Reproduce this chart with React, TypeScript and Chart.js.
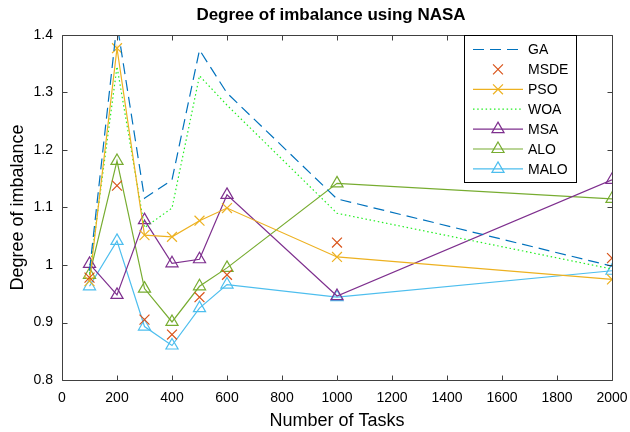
import React, { useEffect, useRef } from "react";
import { Chart, registerables } from "chart.js";

Chart.register(...registerables);

const chartTitle = "Degree of imbalance using NASA";
const xTitle = "Number of Tasks";
const yTitle = "Degree of imbalance";
const tasks = [100, 200, 300, 400, 500, 600, 1000, 2000];
const gaValues = [0.99, 1.42, 1.116, 1.148, 1.374, 1.299, 1.115, 0.998];
const msdeValues = [0.978, 1.138, 0.905, 0.879, 0.944, 0.983, 1.039, 1.012];
const psoValues = [0.972, 1.377, 1.052, 1.049, 1.077, 1.099, 1.014, 0.975];
const woaValues = [0.985, 1.345, 1.065, 1.099, 1.329, 1.278, 1.09, 0.993];
const msaValues = [1.002, 0.948, 1.078, 1.003, 1.01, 1.122, 0.946, 1.148];
const aloValues = [0.983, 1.181, 0.959, 0.901, 0.963, 0.995, 1.142, 1.115];
const maloValues = [0.963, 1.042, 0.893, 0.86, 0.925, 0.966, 0.944, 0.99];
const xTickValues = [0, 200, 400, 600, 800, 1000, 1200, 1400, 1600, 1800, 2000];
const yTickValues = [0.8, 0.9, 1.0, 1.1, 1.2, 1.3, 1.4];

const FONT = "'Liberation Sans', Arial, Helvetica, sans-serif";

type SeriesDef = {
  label: string;
  values: number[];
  color: string;
  dash: number[];
  showLine: boolean;
  point: string | false;
};

const series: SeriesDef[] = [
  { label: "GA", values: gaValues, color: "#0072BD", dash: [11, 6], showLine: true, point: false },
  { label: "MSDE", values: msdeValues, color: "#D95319", dash: [], showLine: false, point: "crossRot" },
  { label: "PSO", values: psoValues, color: "#EDB120", dash: [], showLine: true, point: "crossRot" },
  { label: "WOA", values: woaValues, color: "#22EE22", dash: [1.5, 2.7], showLine: true, point: false },
  { label: "MSA", values: msaValues, color: "#7E2F8E", dash: [], showLine: true, point: "triangle" },
  { label: "ALO", values: aloValues, color: "#77AC30", dash: [], showLine: true, point: "triangle" },
  { label: "MALO", values: maloValues, color: "#4DBEEE", dash: [], showLine: true, point: "triangle" },
];

function drawMarker(ctx: CanvasRenderingContext2D, style: string, x: number, y: number, color: string) {
  ctx.save();
  ctx.strokeStyle = color;
  ctx.lineWidth = 1.2;
  ctx.beginPath();
  if (style === "triangle") {
    const r = 7;
    ctx.moveTo(x, y - r);
    ctx.lineTo(x + r * Math.sin(Math.PI / 3), y + r / 2);
    ctx.lineTo(x - r * Math.sin(Math.PI / 3), y + r / 2);
    ctx.closePath();
  } else {
    const d = 7 * Math.SQRT1_2;
    ctx.moveTo(x - d, y - d);
    ctx.lineTo(x + d, y + d);
    ctx.moveTo(x + d, y - d);
    ctx.lineTo(x - d, y + d);
  }
  ctx.stroke();
  ctx.restore();
}

const framePlugin = {
  id: "frame",
  afterDatasetsDraw(chart: any) {
    const ctx = chart.ctx;
    const area = chart.chartArea;
    const xs = chart.scales.x;
    const ys = chart.scales.y;
    ctx.save();
    ctx.strokeStyle = "#404040";
    ctx.lineWidth = 1;
    const L = Math.round(area.left) + 0.5;
    const R = Math.round(area.right) + 0.5;
    const T = Math.round(area.top) + 0.5;
    const B = Math.round(area.bottom) + 0.5;
    ctx.beginPath();
    ctx.rect(L, T, R - L, B - T);
    ctx.stroke();
    const tl = 5;
    ctx.beginPath();
    xTickValues.forEach((v) => {
      const px = Math.round(xs.getPixelForValue(v)) + 0.5;
      ctx.moveTo(px, B);
      ctx.lineTo(px, B - tl);
      ctx.moveTo(px, T);
      ctx.lineTo(px, T + tl);
    });
    yTickValues.forEach((v) => {
      const py = Math.round(ys.getPixelForValue(v)) + 0.5;
      ctx.moveTo(L, py);
      ctx.lineTo(L + tl, py);
      ctx.moveTo(R, py);
      ctx.lineTo(R - tl, py);
    });
    ctx.stroke();

    // title
    ctx.fillStyle = "#000";
    ctx.font = `bold 17px ${FONT}`;
    ctx.textAlign = "center";
    ctx.textBaseline = "middle";
    ctx.fillText(chartTitle, (area.left + area.right) / 2 - 6, 15);

    // legend
    const lx = 464.5, ly = T, lw = 112, lh = 147;
    ctx.fillStyle = "#fff";
    ctx.fillRect(lx, ly, lw, lh);
    ctx.strokeStyle = "#000";
    ctx.lineWidth = 1;
    ctx.strokeRect(lx, ly, lw, lh);
    series.forEach((s, i) => {
      const y = 49.5 + i * 19.9;
      ctx.strokeStyle = s.color;
      ctx.lineWidth = 1.2;
      if (s.showLine) {
        ctx.setLineDash(s.dash);
        ctx.beginPath();
        ctx.moveTo(473, y);
        ctx.lineTo(523, y);
        ctx.stroke();
        ctx.setLineDash([]);
      }
      if (s.point) {
        drawMarker(ctx, s.point, 498, y, s.color);
      }
      ctx.fillStyle = "#000";
      ctx.font = `14px ${FONT}`;
      ctx.textAlign = "left";
      ctx.textBaseline = "middle";
      ctx.fillText(s.label, 528, y + 1);
    });
    ctx.restore();
  },
};

export default function App() {
  const ref = useRef<HTMLCanvasElement | null>(null);
  useEffect(() => {
    if (!ref.current) return;
    const chart = new Chart(ref.current, {
      type: "line",
      data: {
        datasets: series.map((s) => ({
          label: s.label,
          data: tasks.map((t, i) => ({ x: t, y: s.values[i] })),
          borderColor: s.color,
          backgroundColor: "rgba(0,0,0,0)",
          borderWidth: 1.2,
          borderDash: s.dash,
          showLine: s.showLine,
          pointStyle: s.point || "circle",
          pointRadius: s.point ? 7 : 0,
          pointBorderWidth: 1.2,
          pointBorderColor: s.color,
          pointBackgroundColor: "rgba(0,0,0,0)",
          tension: 0,
          fill: false,
        })),
      },
      options: {
        responsive: false,
        animation: false,
        layout: { padding: { top: 35, right: 18, left: 0, bottom: 0 } },
        plugins: {
          legend: { display: false },
          title: { display: false },
          tooltip: { enabled: false },
        },
        scales: {
          x: {
            type: "linear",
            min: 0,
            max: 2000,
            afterBuildTicks: (scale: any) => {
              scale.ticks = xTickValues.map((v) => ({ value: v }));
            },
            afterFit: (scale: any) => {
              scale.height = 52;
              scale.paddingLeft = 0;
              scale.paddingRight = 0;
            },
            grid: { display: false, drawTicks: false },
            border: { display: false },
            ticks: {
              padding: 10,
              color: "#000",
              font: { family: FONT, size: 14 },
              maxRotation: 0,
              autoSkip: false,
              callback: (v: any) => String(v),
            },
            title: {
              display: true,
              text: xTitle,
              color: "#000",
              font: { family: FONT, size: 18 },
              padding: { top: 0, bottom: 0 },
            },
          },
          y: {
            type: "linear",
            min: 0.8,
            max: 1.4,
            afterBuildTicks: (scale: any) => {
              scale.ticks = yTickValues.map((v) => ({ value: v }));
            },
            afterFit: (scale: any) => {
              scale.width = 62;
              scale.paddingTop = 0;
              scale.paddingBottom = 0;
            },
            grid: { display: false, drawTicks: false },
            border: { display: false },
            ticks: {
              padding: 9,
              color: "#000",
              font: { family: FONT, size: 14 },
              autoSkip: false,
              callback: (v: any) => String(Math.round(Number(v) * 10) / 10),
            },
            title: {
              display: true,
              text: yTitle,
              color: "#000",
              font: { family: FONT, size: 18 },
              padding: { top: 7, bottom: 0 },
            },
          },
        },
      },
      plugins: [framePlugin],
    } as any);
    return () => chart.destroy();
  }, []);
  return (
    <div style={{ position: "fixed", left: 0, top: 0, width: 630, height: 432, background: "#fff" }}>
      <canvas ref={ref} width={630} height={432} style={{ width: 630, height: 432 }} />
    </div>
  );
}
